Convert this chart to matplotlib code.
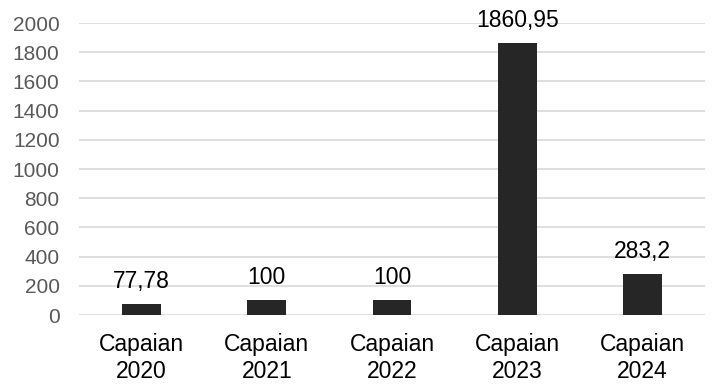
import matplotlib
matplotlib.use("Agg")
import matplotlib.pyplot as plt

categories = ["Capaian\n2020", "Capaian\n2021", "Capaian\n2022", "Capaian\n2023", "Capaian\n2024"]
values = [77.78, 100, 100, 1860.95, 283.2]
value_labels = ["77,78", "100", "100", "1860,95", "283,2"]
y_ticks = [0, 200, 400, 600, 800, 1000, 1200, 1400, 1600, 1800, 2000]

plt.rcParams["font.family"] = ["Liberation Sans", "DejaVu Sans"]

fig = plt.figure(figsize=(7.12, 3.90), dpi=100)
ax = fig.add_axes([0.111, 0.1923, 0.879, 0.7487])

x = range(len(categories))
bars = ax.bar(x, values, width=0.31, color="#262626", zorder=3)

for bar, label in zip(bars, value_labels):
    ax.annotate(label,
                xy=(bar.get_x() + bar.get_width() / 2, bar.get_height()),
                xytext=(0, 11.5), textcoords="offset points",
                ha="center", va="baseline", fontsize=16.5, color="#000000",
                zorder=4)

ax.set_xlim(-0.5, len(categories) - 0.5)
ax.set_ylim(0, 2000)
ax.set_yticks(y_ticks)
ax.set_xticks(list(x))
ax.set_xticklabels(categories, fontsize=16.5, color="#000000", linespacing=1.2)
ax.tick_params(axis="y", labelsize=15, labelcolor="#595959", length=0, pad=14)
ax.tick_params(axis="x", length=0, pad=13)

ax.grid(axis="y", color="#d9d9d9", linewidth=1.2, zorder=0)
for side in ["top", "right", "left", "bottom"]:
    ax.spines[side].set_visible(False)

fig.savefig("out.png", dpi=100)
